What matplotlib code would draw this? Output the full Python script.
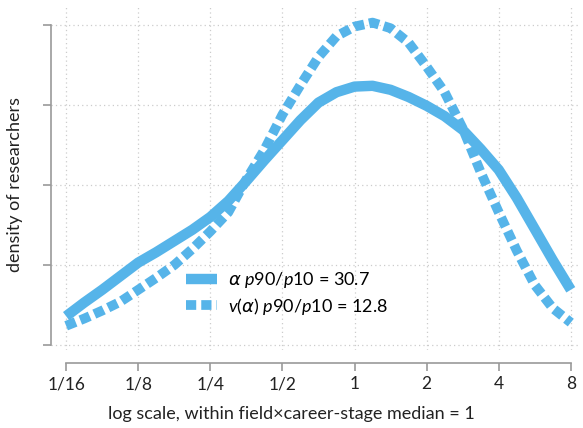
import numpy as np
import matplotlib
matplotlib.use("Agg")
import matplotlib.pyplot as plt

plt.rcParams['font.family'] = ['Lato', 'DejaVu Sans']
plt.rcParams['mathtext.fontset'] = 'custom'
plt.rcParams['mathtext.it'] = 'Lato:italic'
plt.rcParams['mathtext.rm'] = 'Lato'
plt.rcParams['mathtext.sf'] = 'DejaVu Sans:italic'

# x positions as log2 of ratio to the median
log2_x = [-4, -3.75, -3.5, -3.25, -3, -2.75, -2.5, -2.25, -2, -1.75, -1.5, -1.25,
          -1, -0.75, -0.5, -0.25, 0, 0.25, 0.5, 0.75, 1, 1.25, 1.5, 1.75, 2,
          2.25, 2.5, 2.75, 3]
# density (tick spacing = 0.1)
alpha_density = [0.036, 0.053, 0.069, 0.086, 0.103, 0.116, 0.130, 0.144, 0.160,
                 0.180, 0.205, 0.231, 0.256, 0.281, 0.303, 0.316, 0.323, 0.324,
                 0.319, 0.310, 0.299, 0.286, 0.269, 0.245, 0.219, 0.184, 0.145,
                 0.106, 0.069]
valpha_density = [0.024, 0.033, 0.043, 0.054, 0.069, 0.084, 0.100, 0.120, 0.142,
                  0.166, 0.207, 0.244, 0.288, 0.325, 0.360, 0.386, 0.398, 0.403,
                  0.396, 0.378, 0.348, 0.316, 0.271, 0.216, 0.166, 0.118, 0.075,
                  0.046, 0.028]

tick_vals = [1/16, 1/8, 1/4, 1/2, 1, 2, 4, 8]
tick_labels = ["1/16", "1/8", "1/4", "1/2", "1", "2", "4", "8"]
y_ticks = [0, 0.1, 0.2, 0.3, 0.4]

x = [2.0 ** v for v in log2_x]
blue = "#56B4E9"
text_col = "#222222"

fig = plt.figure(figsize=(5.83, 4.28), dpi=100)
ax = fig.add_axes([51/583, 1 - 350/428, (578 - 51)/583, (350 - 7)/428])

ax.plot(x, alpha_density, color=blue, lw=7.5, solid_capstyle='butt',
        solid_joinstyle='round', label=r"$\mathsf{\alpha}$ $p$90/$p$10 = 30.7")
ax.plot(x, valpha_density, color=blue, lw=7, dashes=(1.05, 0.52),
        dash_capstyle='butt', label=r"$v(\mathsf{\alpha})$ $p$90/$p$10 = 12.8")

ax.set_xscale('log', base=2)
ax.set_xlim(2 ** -4.21, 2 ** 3.1)
ax.set_ylim(-0.00625, 0.4225)
ax.set_xticks(tick_vals)
ax.set_xticklabels(tick_labels)
ax.minorticks_off()
ax.set_yticks(y_ticks)
ax.set_yticklabels([])

ax.grid(True, color="#cccccc", linestyle=(0, (1, 2.5)), linewidth=0.9)
ax.set_axisbelow(True)

for s in ['top', 'right']:
    ax.spines[s].set_visible(False)
ax.spines['left'].set_bounds(0, 0.4)
ax.spines['bottom'].set_bounds(1/16, 8)
ax.spines['bottom'].set_position(('outward', 9))
for s in ['left', 'bottom']:
    ax.spines[s].set_color("#999999")
    ax.spines[s].set_linewidth(1.2)
ax.tick_params(axis='both', colors="#999999", length=6, width=1.2,
               labelcolor=text_col, labelsize=12.5)
ax.tick_params(axis='x', pad=4)

fig.text(0.5, 1 - 414/428, "log scale, within field×career-stage median = 1",
         fontsize=13, color=text_col, ha='center', va='center')
fig.text(15/583, 1 - 185/428, "density of researchers", fontsize=13,
         color=text_col, rotation=90, ha='center', va='center')

ax.legend(loc='upper left', bbox_to_anchor=(0.226, 0.28), frameon=False,
          fontsize=13, handlelength=1.7, handletextpad=0.6, labelspacing=0.3)

fig.savefig("out.png", dpi=100)
